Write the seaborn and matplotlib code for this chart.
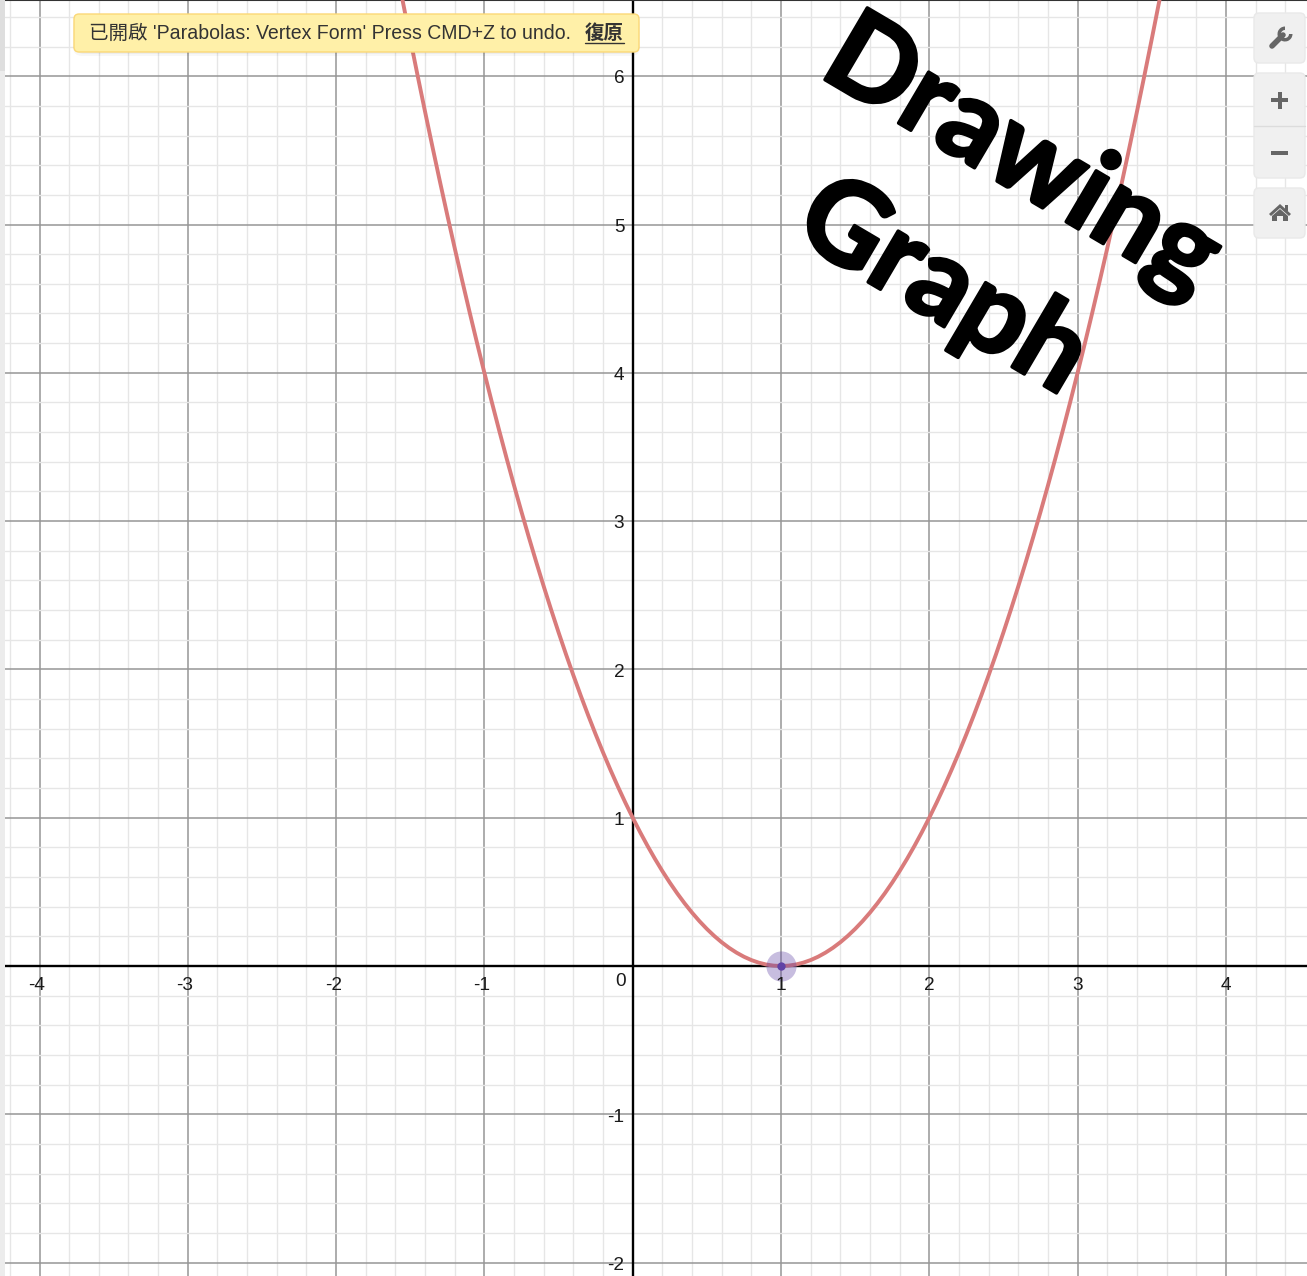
# Parabola screenshot: vertex form graph with toast, zoom buttons and rotated caption
import matplotlib
matplotlib.use("Agg")
import matplotlib.pyplot as plt
import matplotlib.patheffects as pe
import seaborn as sns
from matplotlib.lines import Line2D
from matplotlib.patches import FancyBboxPatch, Polygon, Rectangle, Wedge
from matplotlib.ticker import MultipleLocator
from matplotlib.transforms import Affine2D

# values
curve_x = [-1.6, -1.55, -1.5, -1.45, -1.4, -1.35, -1.3, -1.25, -1.2, -1.15, -1.1, -1.05, -1.0, -0.95, -0.9, -0.85,
           -0.8, -0.75, -0.7, -0.65, -0.6, -0.55, -0.5, -0.45, -0.4, -0.35, -0.3, -0.25, -0.2, -0.15, -0.1, -0.05,
           0.0, 0.05, 0.1, 0.15, 0.2, 0.25, 0.3, 0.35, 0.4, 0.45, 0.5, 0.55, 0.6, 0.65, 0.7, 0.75, 0.8, 0.85, 0.9, 0.95,
           1.0, 1.05, 1.1, 1.15, 1.2, 1.25, 1.3, 1.35, 1.4, 1.45, 1.5, 1.55, 1.6, 1.65, 1.7, 1.75, 1.8, 1.85, 1.9, 1.95,
           2.0, 2.05, 2.1, 2.15, 2.2, 2.25, 2.3, 2.35, 2.4, 2.45, 2.5, 2.55, 2.6, 2.65, 2.7, 2.75, 2.8, 2.85, 2.9, 2.95,
           3.0, 3.05, 3.1, 3.15, 3.2, 3.25, 3.3, 3.35, 3.4, 3.45, 3.5, 3.55, 3.6]
curve_y = [6.76, 6.5025, 6.25, 6.0025, 5.76, 5.5225, 5.29, 5.0625, 4.84, 4.6225, 4.41, 4.2025, 4.0, 3.8025, 3.61, 3.4225,
           3.24, 3.0625, 2.89, 2.7225, 2.56, 2.4025, 2.25, 2.1025, 1.96, 1.8225, 1.69, 1.5625, 1.44, 1.3225, 1.21, 1.1025,
           1.0, 0.9025, 0.81, 0.7225, 0.64, 0.5625, 0.49, 0.4225, 0.36, 0.3025, 0.25, 0.2025, 0.16, 0.1225, 0.09, 0.0625, 0.04, 0.0225, 0.01, 0.0025,
           0.0, 0.0025, 0.01, 0.0225, 0.04, 0.0625, 0.09, 0.1225, 0.16, 0.2025, 0.25, 0.3025, 0.36, 0.4225, 0.49, 0.5625, 0.64, 0.7225, 0.81, 0.9025,
           1.0, 1.1025, 1.21, 1.3225, 1.44, 1.5625, 1.69, 1.8225, 1.96, 2.1025, 2.25, 2.4025, 2.56, 2.7225, 2.89, 3.0625, 3.24, 3.4225, 3.61, 3.8025,
           4.0, 4.2025, 4.41, 4.6225, 4.84, 5.0625, 5.29, 5.5225, 5.76, 6.0025, 6.25, 6.5025, 6.76]
vertex_x = [1]
vertex_y = [0]
x_ticks = [-4, -3, -2, -1, 1, 2, 3, 4]
y_ticks = [-2, -1, 1, 2, 3, 4, 5, 6]

W, H = 1307, 1276
UNIT = 148.3   # pixels per graph unit
X0, Y0 = 632.7, 966   # pixel position of the origin
LEFT = 5

sns.set_theme(style="white")
plt.rcParams["font.family"] = ["Liberation Sans", "Noto Sans CJK TC"]

fig = plt.figure(figsize=(W / 100, H / 100), dpi=100)
ax = fig.add_axes([LEFT / W, 0, (W - LEFT) / W, 1])
ax.set_xlim((LEFT - X0) / UNIT, (W - X0) / UNIT)
ax.set_ylim((Y0 - H) / UNIT, Y0 / UNIT)

# grid
ax.set_axisbelow(True)
ax.xaxis.set_minor_locator(MultipleLocator(0.2))
ax.yaxis.set_minor_locator(MultipleLocator(0.2))
ax.xaxis.set_major_locator(MultipleLocator(1))
ax.yaxis.set_major_locator(MultipleLocator(1))
ax.grid(which="minor", color="#e6e6e6", lw=1.0)
ax.grid(which="major", color="#969696", lw=1.1)

# axes through the origin
for side in ["right", "bottom", "left"]:
    ax.spines[side].set_visible(False)
ax.spines["top"].set_color("#333333")
ax.spines["top"].set_linewidth(1.5)
ax.axhline(0, color="black", lw=1.7, zorder=2)
ax.axvline(0, color="black", lw=1.7, zorder=2)

# curve and vertex
sns.lineplot(x=curve_x, y=curve_y, sort=False, errorbar=None, color="#d97b7b", lw=2.8, ax=ax, zorder=3)
sns.scatterplot(x=vertex_x, y=vertex_y, s=470, color="#6042a6", alpha=0.35, linewidth=0, ax=ax, zorder=4)
sns.scatterplot(x=vertex_x, y=vertex_y, s=36, color="#6042a6", linewidth=0, ax=ax, zorder=5)

# tick labels sit next to the axes, not at the edge of the picture
ax.tick_params(which="both", length=0, labelbottom=False, labelleft=False)
for v in x_ticks:
    dx = -2 if v < 0 else 0
    ax.annotate(str(v), (v, 0), xytext=(dx, -14), textcoords="offset points", ha="center", va="center",
                fontsize=13.7, color="#1a1a1a", zorder=6)
for v in y_ticks:
    ax.annotate(str(v), (0, v), xytext=(-6, -2), textcoords="offset points", ha="right", va="center",
                fontsize=13.7, color="#1a1a1a", zorder=6)
ax.annotate("0", (0, 0), xytext=(-9, -11), textcoords="offset points", ha="center", va="center",
            fontsize=13.7, color="#1a1a1a", zorder=6)

# everything below is placed in screen pixels, y pointing down
px = Affine2D().scale(1, -1).translate(0, H)

def add(patch):
    patch.set_transform(px)
    fig.add_artist(patch)

# left strip
add(Rectangle((0, 0), LEFT, H, fc="#ececec", ec="none"))
add(Rectangle((0, 0), LEFT, 71, fc="#dedede", ec="none"))

# toast
for grow, a in [(7, 0.03), (5, 0.04), (3, 0.05), (1.5, 0.06)]:
    add(FancyBboxPatch((80 - grow, 20 - grow + 3), 553 + 2 * grow, 26 + 2 * grow, boxstyle="round,pad=0,rounding_size=9",
                       fc="black", ec="none", alpha=a))
add(FancyBboxPatch((80, 20), 553, 26, boxstyle="round,pad=6,rounding_size=5", fc="#fff0a8", ec="#fbd877", lw=1))
fig.text(89, 31.5, "已開啟 'Parabolas: Vertex Form' Press CMD+Z to undo.", transform=px, ha="left", va="center_baseline",
         fontsize=14.05, color="#333333")
fig.text(585, 31.5, "復原", transform=px, ha="left", va="center_baseline", fontsize=14, fontweight="bold", color="#333333")
fig.add_artist(Line2D([585, 624], [42.5, 42.5], transform=px, color="#333333", lw=1))

# zoom buttons
for y, h in [(13, 50), (73, 105), (188, 50)]:
    add(FancyBboxPatch((1258, y + 4), 43, h - 8, boxstyle="round,pad=4,rounding_size=5", fc="#f0f0f0", ec="#e9e9e9", lw=1))
fig.add_artist(Line2D([1254, 1305], [125.5, 125.5], transform=px, color="#dcdcdc", lw=1))
icon = "#666666"
# wrench
fig.add_artist(Line2D([1272, 1283], [46, 35], transform=px, color=icon, lw=4, solid_capstyle="round"))
add(Wedge((1285, 34), 7.5, 0, 270, width=3.5, fc=icon, ec="none"))
# plus and minus
add(Rectangle((1271, 98), 17, 4, fc=icon, ec="none"))
add(Rectangle((1277.5, 92), 4, 17, fc=icon, ec="none"))
add(Rectangle((1271, 150.5), 17, 4, fc=icon, ec="none"))
# house
add(Polygon([(1269, 214), (1280, 204), (1291, 214), (1289, 216), (1280, 208), (1271, 216)], fc=icon, ec="none"))
add(Polygon([(1272, 216), (1280, 209), (1288, 216), (1288, 221), (1283, 221), (1283, 216), (1277, 216), (1277, 221), (1272, 221)], fc=icon, ec="none"))
add(Rectangle((1285, 205), 3, 6, fc=icon, ec="none"))

# rotated caption, stroked because Lato bold is lighter than the original face
caption = dict(transform=px, family="Lato", fontweight="bold", fontsize=83, color="black", rotation=-30.5,
               rotation_mode="anchor", ha="left", va="baseline",
               path_effects=[pe.withStroke(linewidth=2.5, foreground="black")])
fig.text(817, 75, "Drawing", **caption)
fig.text(790, 236, "Graph", **caption)

fig.savefig("out.png", dpi=100)
